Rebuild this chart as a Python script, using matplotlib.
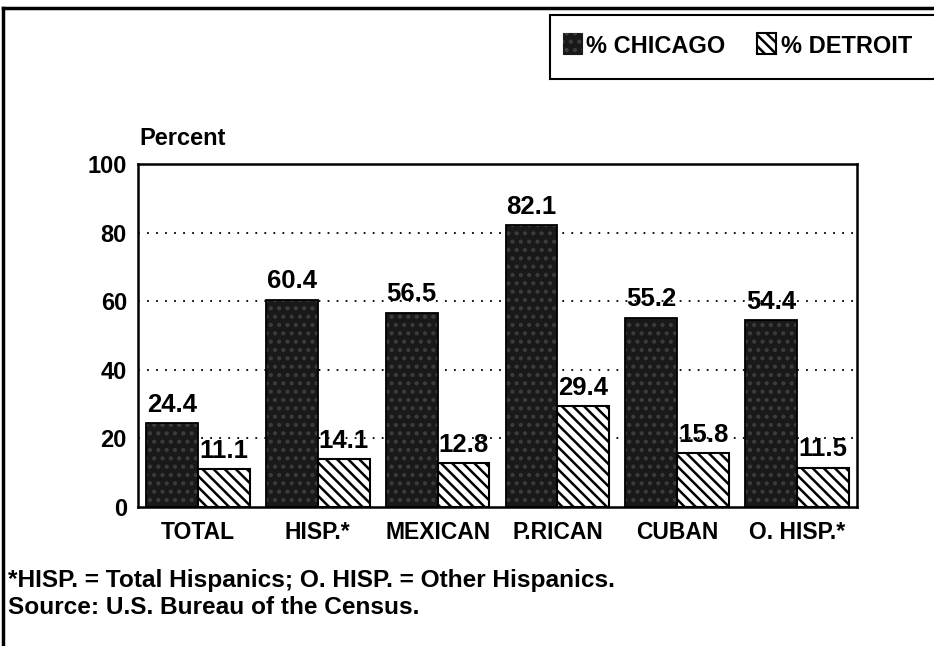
import matplotlib
matplotlib.use("Agg")
import matplotlib.pyplot as plt
import numpy as np
from matplotlib.lines import Line2D
from matplotlib.patches import Rectangle

plt.rcParams['font.family'] = ['Liberation Sans', 'DejaVu Sans']
plt.rcParams['font.weight'] = 'bold'
plt.rcParams['hatch.linewidth'] = 1.8

categories = ["TOTAL", "HISP.*", "MEXICAN", "P.RICAN", "CUBAN", "O. HISP.*"]
chicago = [24.4, 60.4, 56.5, 82.1, 55.2, 54.4]
detroit = [11.1, 14.1, 12.8, 29.4, 15.8, 11.5]
yticks = [0, 20, 40, 60, 80, 100]

W, H = 934, 646
fig = plt.figure(figsize=(W / 100, H / 100), dpi=100)
ax = fig.add_axes([138 / W, 1 - 507 / H, (857 - 138) / W, (507 - 164) / H])

DARK = '#191919'
SPECK = '#3c3c3c'
x = np.arange(len(categories))
bw = 0.433
ax.bar(x - bw / 2, chicago, width=bw, color=DARK, edgecolor=DARK, linewidth=0, zorder=3)
ax.bar(x - bw / 2, chicago, width=bw, color='none', edgecolor=SPECK, hatch='..', linewidth=0, zorder=3.1)
ax.bar(x - bw / 2, chicago, width=bw, color='none', edgecolor='black', linewidth=1.3, zorder=3.2)
ax.bar(x + bw / 2, detroit, width=bw, color='white', edgecolor='black', hatch='\\\\\\', linewidth=1.5, zorder=3)

for i, (c, d) in enumerate(zip(chicago, detroit)):
    ax.annotate(f"{c:.1f}", (i - bw / 2, c), xytext=(0, 8.5), textcoords='offset points',
                ha='center', va='baseline', fontsize=18.5, zorder=4)
    ax.annotate(f"{d:.1f}", (i + bw / 2, d), xytext=(0, 8), textcoords='offset points',
                ha='center', va='baseline', fontsize=18.5, zorder=4)

ax.set_xlim(-0.5, len(categories) - 0.5)
ax.set_ylim(0, 100)
ax.set_yticks(yticks)
ax.set_yticklabels([str(t) for t in yticks], fontsize=17)
ax.set_xticks(x)
ax.set_xticklabels(categories, fontsize=16.5)
ax.tick_params(axis='y', length=0, pad=8)
ax.tick_params(axis='x', length=0, pad=10)
for t in [20, 40, 60, 80]:
    ax.axhline(t, color='black', linestyle=(0, (1, 4)), linewidth=1.3, zorder=1)
for s in ax.spines.values():
    s.set_linewidth(1.8)

fig.text(139 / W, 1 - 145 / H, "Percent", fontsize=17, ha='left', va='baseline')
fig.text(8 / W, 1 - 587 / H, "*HISP. = Total Hispanics; O. HISP. = Other Hispanics.", fontsize=17.6, ha='left', va='baseline')
fig.text(8 / W, 1 - 614 / H, "Source: U.S. Bureau of the Census.", fontsize=17.6, ha='left', va='baseline')

# page frame lines
fig.add_artist(Line2D([3 / W, 3 / W], [0, 1 - 8 / H], color='black', linewidth=2.5))
fig.add_artist(Line2D([3 / W, 1], [1 - 8 / H, 1 - 8 / H], color='black', linewidth=2.5))

# legend box
fig.add_artist(Rectangle((550 / W, 1 - 79 / H), (W - 550 + 5) / W, 64 / H, transform=fig.transFigure,
                         facecolor='white', edgecolor='black', linewidth=1.5))
fig.add_artist(Rectangle((563 / W, 1 - 54 / H), 19 / W, 21 / H, transform=fig.transFigure,
                         facecolor=DARK, edgecolor=DARK, linewidth=0.8))
fig.add_artist(Rectangle((563 / W, 1 - 54 / H), 19 / W, 21 / H, transform=fig.transFigure,
                         facecolor='none', edgecolor=SPECK, hatch='..', linewidth=0))
fig.text(586 / W, 1 - 53 / H, "% CHICAGO", fontsize=17, ha='left', va='baseline')
fig.add_artist(Rectangle((757 / W, 1 - 54 / H), 19 / W, 21 / H, transform=fig.transFigure,
                         facecolor='white', edgecolor='black', hatch='\\\\\\', linewidth=1.5))
fig.text(781 / W, 1 - 53 / H, "% DETROIT", fontsize=17, ha='left', va='baseline')

fig.savefig("out.png", dpi=100)
